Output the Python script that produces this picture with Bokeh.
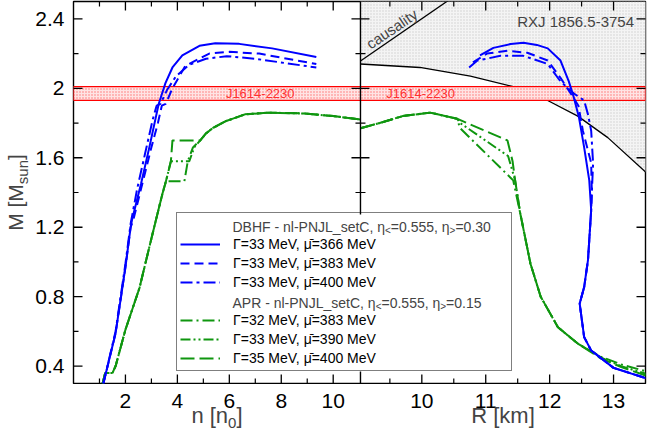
import math
from bokeh.plotting import figure
from bokeh.layouts import column, row
from bokeh.models import Range1d, Span, Label, Legend, LegendItem, BoxAnnotation
from bokeh.core.properties import value
from bokeh.embed import file_html
from bokeh.resources import INLINE

# ---------------- data ----------------
N_MAX = 11.05                # right end of the n panel
R_MIN, R_MAX = 9.04, 13.5    # R panel range
Y_MIN, Y_MAX = 0.3, 2.5

N_TICKS = [2, 4, 6, 8, 10]
N_TICK_LABELS = ["2", "4", "6", "8", "10"]
N_MINOR = [1, 3, 5, 7, 9]
R_TICKS = [10, 11, 12, 13]
R_TICK_LABELS = ["10", "11", "12", "13"]
R_MINOR = [9.5, 10.5, 11.5, 12.5]
M_TICKS = [0.4, 0.8, 1.2, 1.6, 2.0, 2.4]
M_TICK_LABELS = ["0.4", "0.8", "1.2", "1.6", "2", "2.4"]
M_MINOR = [0.6, 1.0, 1.4, 1.8, 2.2]

BAND_LO, BAND_HI = 1.93, 2.01   # J1614-2230

# left panel: M vs n
B366_N = [1.15, 1.62, 2.0, 2.2, 2.25, 2.6, 2.92, 3.28, 3.54, 3.81, 4.19, 4.85, 5.46, 6.38, 7.65, 9.35]
B366_M = [0.30, 0.59, 0.97, 1.20, 1.24, 1.45, 1.66, 1.91, 2.03, 2.12, 2.19, 2.245, 2.26, 2.256, 2.23, 2.18]
B383_N = [1.15, 1.62, 2.0, 2.2, 2.3, 2.65, 3.0, 3.25, 3.4, 3.55, 3.81, 4.31, 5.23, 6.0, 7.15, 9.35]
B383_M = [0.30, 0.59, 0.97, 1.20, 1.24, 1.45, 1.66, 1.80, 1.90, 1.91, 2.0, 2.13, 2.20, 2.21, 2.20, 2.14]
B400_N = [1.15, 1.62, 2.0, 2.2, 2.45, 2.75, 3.05, 3.2, 3.35, 3.6, 3.95, 4.45, 5.1, 5.9, 7.0, 9.35]
B400_M = [0.30, 0.60, 0.99, 1.22, 1.42, 1.62, 1.82, 1.90, 1.91, 1.99, 2.07, 2.135, 2.17, 2.185, 2.17, 2.12]

G32_N = [1.12, 1.22, 1.5, 1.62, 2.0, 2.54, 3.04, 3.42, 3.56, 4.27, 4.40, 4.6, 4.88, 5.1, 5.35, 5.85, 6.6, 7.54, 8.9, 10.0, 11.05]
G32_M = [0.30, 0.36, 0.36, 0.40, 0.61, 0.85, 1.16, 1.39, 1.465, 1.465, 1.58, 1.66, 1.70, 1.74, 1.77, 1.81, 1.85, 1.86, 1.855, 1.84, 1.82]
G33_N = [1.12, 1.22, 1.5, 1.62, 2.0, 2.54, 3.04, 3.42, 3.56, 3.75, 4.46, 4.65, 4.88, 5.1, 5.35, 5.85, 6.6, 7.54, 8.9, 10.0, 11.05]
G33_M = [0.30, 0.36, 0.36, 0.40, 0.61, 0.85, 1.16, 1.39, 1.465, 1.58, 1.58, 1.66, 1.70, 1.74, 1.77, 1.81, 1.85, 1.86, 1.855, 1.84, 1.82]
G35_N = [1.12, 1.22, 1.5, 1.62, 2.0, 2.54, 3.04, 3.42, 3.56, 3.75, 3.81, 4.88, 5.1, 5.35, 5.85, 6.6, 7.54, 8.9, 10.0, 11.05]
G35_M = [0.30, 0.36, 0.36, 0.40, 0.61, 0.85, 1.16, 1.39, 1.465, 1.58, 1.70, 1.70, 1.74, 1.77, 1.81, 1.85, 1.86, 1.855, 1.84, 1.82]

# right panel: M vs R
B366_R = [10.91, 11.12, 11.39, 11.59, 11.8, 11.97, 12.17, 12.30, 12.38, 12.46, 12.54, 12.62, 12.65, 12.60, 12.54, 12.47, 12.54, 12.65, 13.0, 13.51]
B366_MR = [2.19, 2.233, 2.255, 2.262, 2.25, 2.23, 2.16, 2.04, 1.946, 1.83, 1.66, 1.47, 1.30, 1.01, 0.855, 0.76, 0.567, 0.49, 0.39, 0.33]
B383_R = [10.80, 11.02, 11.34, 11.65, 11.97, 12.17, 12.33, 12.45, 12.52, 12.65, 12.66, 12.65, 12.60, 12.54, 12.47, 12.54, 12.65, 13.0, 13.51]
B383_MR = [2.15, 2.20, 2.216, 2.205, 2.16, 2.06, 1.97, 1.90, 1.756, 1.57, 1.40, 1.30, 1.01, 0.855, 0.76, 0.567, 0.49, 0.39, 0.33]
B400_R = [10.74, 10.87, 11.23, 11.59, 11.97, 12.17, 12.38, 12.54, 12.60, 12.65, 12.68, 12.66, 12.65, 12.60, 12.54, 12.47, 12.54, 12.65, 13.0, 13.51]
B400_MR = [2.12, 2.16, 2.187, 2.187, 2.14, 2.04, 1.97, 1.93, 1.85, 1.756, 1.567, 1.40, 1.30, 1.01, 0.855, 0.76, 0.567, 0.49, 0.39, 0.33]

G32_R = [9.04, 9.34, 9.70, 10.13, 10.55, 10.6, 11.43, 11.54, 11.70, 11.86, 12.13, 12.44, 12.8, 13.12, 13.51]
G32_MR = [1.77, 1.80, 1.84, 1.86, 1.825, 1.77, 1.47, 1.28, 0.99, 0.80, 0.624, 0.53, 0.455, 0.41, 0.37]
G33_R = [9.04, 9.34, 9.70, 10.13, 10.55, 10.6, 11.35, 11.46, 11.54, 11.70, 11.86, 12.13, 12.44, 12.8, 13.12, 13.51]
G33_MR = [1.77, 1.80, 1.84, 1.86, 1.825, 1.80, 1.61, 1.47, 1.28, 0.99, 0.80, 0.624, 0.53, 0.45, 0.40, 0.355]
G35_R = [9.04, 9.34, 9.70, 10.13, 10.55, 11.34, 11.42, 11.46, 11.54, 11.70, 11.86, 12.13, 12.44, 12.8, 13.12, 13.51]
G35_MR = [1.77, 1.80, 1.84, 1.86, 1.825, 1.70, 1.58, 1.47, 1.28, 0.99, 0.80, 0.624, 0.53, 0.445, 0.395, 0.345]

RXJ_R = [9.04, 9.97, 10.76, 11.43, 11.97, 12.44, 12.91, 13.51]
RXJ_M = [2.14, 2.12, 2.07, 2.01, 1.93, 1.84, 1.716, 1.515]
CAUS_R = [9.04, 10.45]
CAUS_M = [2.157, 2.515]

LEG_BLUE = ["\u0393=33 MeV, \u03bc\u0304=366 MeV", "\u0393=33 MeV, \u03bc\u0304=383 MeV", "\u0393=33 MeV, \u03bc\u0304=400 MeV"]
LEG_GREEN = ["\u0393=32 MeV, \u03bc\u0304=383 MeV", "\u0393=33 MeV, \u03bc\u0304=390 MeV", "\u0393=35 MeV, \u03bc\u0304=400 MeV"]
HEAD_DBHF = [("DBHF - nl-PNJL_setC, \u03b7", False), ("<", True), ("=0.555, \u03b7", False), (">", True), ("=0.30", False)]
HEAD_APR = [("APR - nl-PNJL_setC, \u03b7", False), ("<", True), ("=0.555, \u03b7", False), (">", True), ("=0.15", False)]
N_TITLE = [("n [n", False), ("0", True), ("]", False)]
R_TITLE = "R [km]"
M_TITLE = [("M [M", False), ("sun", True), ("]", False)]

# ---------------- layout / style ----------------
FONT = "Liberation Sans"
BLUE = "#0000ff"
GREEN = "#0f960f"
SPLIT = 0.5017                      # share of the frame taken by the n panel
X0, X1 = 0.0, N_MAX / SPLIT
RX0 = R_MIN - (R_MAX - R_MIN) * SPLIT / (1 - SPLIT)
RX1 = R_MAX

LEFT_W = 72                         # strip holding y tick labels and y title
FRAME_W, FRAME_H = 572, 382
MAIN_W = 1 + FRAME_W + 3
MAIN_H = 1 + FRAME_H + 1
BOT_H = 432 - MAIN_H

x_range = Range1d(X0, X1)
r_range = Range1d(RX0, RX1)
y_range = Range1d(Y_MIN, Y_MAX)

p = figure(width=MAIN_W, height=MAIN_H, x_range=x_range, y_range=y_range,
           x_axis_type=None, y_axis_type=None, output_backend="svg", toolbar_location=None,
           min_border_left=1, min_border_right=3, min_border_top=1, min_border_bottom=1)
p.extra_x_ranges = {"R": r_range}
p.outline_line_color = "black"
p.outline_line_width = 1.4
p.background_fill_color = "white"
p.border_fill_color = "white"

# shaded RXJ region and limits (right panel)
p.varea(x=RXJ_R, y1=RXJ_M, y2=[Y_MAX] * len(RXJ_R), x_range_name="R",
        fill_color="#f4f4f4", hatch_pattern="dot", hatch_color="#cfcfcf", hatch_scale=3, hatch_weight=1)
p.line(RXJ_R, RXJ_M, x_range_name="R", line_color="black", line_width=1.3)
p.line(CAUS_R, CAUS_M, x_range_name="R", line_color="black", line_width=1.3)

# J1614-2230 band
p.quad(left=X0, right=X1, bottom=BAND_LO, top=BAND_HI, fill_color="#ffe4e4",
       hatch_pattern="dot", hatch_color="#ff7070", hatch_scale=3, hatch_weight=1,
       line_color="#ff0000", line_width=1.3)

LW = 2
g32 = p.line(G32_N, G32_M, line_color=GREEN, line_width=LW, line_dash="12 4 2 4")
g33 = p.line(G33_N, G33_M, line_color=GREEN, line_width=LW, line_dash="10 3 2 3 2 3")
g35 = p.line(G35_N, G35_M, line_color=GREEN, line_width=LW, line_dash="14 5")
p.line(G32_R, G32_MR, x_range_name="R", line_color=GREEN, line_width=LW, line_dash="12 4 2 4")
p.line(G33_R, G33_MR, x_range_name="R", line_color=GREEN, line_width=LW, line_dash="10 3 2 3 2 3")
p.line(G35_R, G35_MR, x_range_name="R", line_color=GREEN, line_width=LW, line_dash="14 5")
b366 = p.line(B366_N, B366_M, line_color=BLUE, line_width=LW)
b383 = p.line(B383_N, B383_M, line_color=BLUE, line_width=LW, line_dash="9 5")
b400 = p.line(B400_N, B400_M, line_color=BLUE, line_width=LW, line_dash="12 4 3 4")
p.line(B366_R, B366_MR, x_range_name="R", line_color=BLUE, line_width=LW)
p.line(B383_R, B383_MR, x_range_name="R", line_color=BLUE, line_width=LW, line_dash="9 5")
p.line(B400_R, B400_MR, x_range_name="R", line_color=BLUE, line_width=LW, line_dash="12 4 3 4")

# inward ticks: dash markers centred on the frame edges (outer half is clipped away)
MAJ, MIN_ = 18, 10
TK = dict(marker="dash", line_color="black")
VERT = math.pi / 2
for yedge in (Y_MIN, Y_MAX):
    p.scatter(x=N_TICKS, y=[yedge] * len(N_TICKS), angle=VERT, size=MAJ, line_width=1.3, **TK)
    p.scatter(x=N_MINOR, y=[yedge] * len(N_MINOR), angle=VERT, size=MIN_, line_width=1.2, **TK)
    p.scatter(x=R_TICKS, y=[yedge] * len(R_TICKS), x_range_name="R", angle=VERT, size=MAJ, line_width=1.3, **TK)
    p.scatter(x=R_MINOR, y=[yedge] * len(R_MINOR), x_range_name="R", angle=VERT, size=MIN_, line_width=1.2, **TK)
for xedge, rng in ((X0, "default"), (N_MAX, "default"), (R_MAX, "R")):
    p.scatter(x=[xedge] * len(M_TICKS), y=M_TICKS, x_range_name=rng, size=MAJ, line_width=1.3, **TK)
    p.scatter(x=[xedge] * len(M_MINOR), y=M_MINOR, x_range_name=rng, size=MIN_, line_width=1.2, **TK)

# divider between the panels
p.add_layout(Span(location=N_MAX, dimension="height", line_color="black", line_width=1.4))

# texts in the panels
p.add_layout(Label(x=7.19, y=(BAND_LO + BAND_HI) / 2, text="J1614-2230", text_color="#ff3030",
                   text_font=FONT, text_font_size="13px", text_align="center", text_baseline="middle"))
p.add_layout(Label(x=9.98, y=(BAND_LO + BAND_HI) / 2, x_range_name="R", text="J1614-2230",
                   text_color="#ff3030", text_font=FONT, text_font_size="13px",
                   text_align="center", text_baseline="middle"))
p.add_layout(Label(x=9.53, y=2.343, x_range_name="R", text="causality", angle=math.radians(34),
                   text_font=FONT, text_font_size="15px", text_align="center", text_baseline="middle"))
p.add_layout(Label(x=13.32, y=2.383, x_range_name="R", text="RXJ 1856.5-3754",
                   text_font=FONT, text_font_size="15px", text_align="right", text_baseline="middle"))

# ---------------- legend ----------------
LEG_X, LEG_Y = 103, 12
PAD, GW, GH, SP, STAND, LABW = 3, 40, 18, 1, 13, 275
LEG_FS = 14
leg_w = 2 * PAD + GW + STAND + LABW
leg_h = 2 * PAD + 8 * GH + 7 * SP
p.add_layout(BoxAnnotation(left=LEG_X, right=LEG_X + leg_w, bottom=LEG_Y, top=LEG_Y + leg_h,
                           left_units="screen", right_units="screen", bottom_units="screen",
                           top_units="screen", fill_color="white", fill_alpha=1.0, line_alpha=0))

blank = p.line(x=[], y=[], line_alpha=0)
items = [LegendItem(label=" ", renderers=[blank]),
         LegendItem(label=LEG_BLUE[0], renderers=[b366]),
         LegendItem(label=LEG_BLUE[1], renderers=[b383]),
         LegendItem(label=LEG_BLUE[2], renderers=[b400]),
         LegendItem(label="  ", renderers=[blank]),
         LegendItem(label=LEG_GREEN[0], renderers=[g32]),
         LegendItem(label=LEG_GREEN[1], renderers=[g33]),
         LegendItem(label=LEG_GREEN[2], renderers=[g35])]
legend = Legend(items=items, location=(LEG_X, LEG_Y), orientation="vertical",
                glyph_width=GW, glyph_height=GH, label_height=GH, label_width=LABW,
                spacing=SP, padding=PAD, margin=0, label_standoff=STAND,
                border_line_color="black", border_line_width=1.2,
                background_fill_alpha=0.0,
                label_text_font=FONT, label_text_font_size="%dpx" % LEG_FS, label_text_color="black")
p.add_layout(legend)

WID = {' ': 278, '-': 333, '_': 556, ',': 278, '.': 278, '=': 584, '<': 584, '>': 584,
       '[': 278, ']': 278, 'A': 667, 'B': 667, 'C': 722, 'D': 722, 'F': 611, 'H': 722,
       'J': 500, 'L': 556, 'M': 833, 'N': 722, 'P': 667, 'R': 722, 'a': 556, 'c': 500,
       'e': 556, 'i': 222, 'k': 500, 'l': 222, 'n': 556, 's': 500, 't': 278, 'u': 556,
       'y': 500, '\u03b7': 556}


def tw(s, size):
    return sum(WID.get(ch, 556) for ch in s) * size / 1000.0


def text_run(fig, pieces, x, y, size, sub_size, sub_drop, angle=0.0):
    """Run of text pieces with subscripts (middle baseline), in screen units of fig's frame."""
    pos = 0.0
    for txt, sub in pieces:
        fs = sub_size if sub else size
        drop = sub_drop if sub else 0.0
        if angle == 0.0:
            lx, ly = x + pos, y - drop
        else:
            lx, ly = x + drop, y + pos
        fig.add_layout(Label(x=lx, y=ly, x_units="screen", y_units="screen", text=txt,
                             angle=angle, text_font=FONT, text_font_size="%gpx" % fs,
                             text_align="left", text_baseline="middle"))
        pos += tw(txt, fs)


text_x = LEG_X + PAD + GW + STAND
for r, pieces in ((0, HEAD_DBHF), (4, HEAD_APR)):
    cy = LEG_Y + leg_h - (PAD + r * (GH + SP) + GH / 2.0)
    text_run(p, pieces, text_x, cy, LEG_FS, 10, 4)

# ---------------- left strip: y tick labels and y title ----------------
pl = figure(width=LEFT_W, height=MAIN_H, x_range=Range1d(0, LEFT_W), y_range=y_range,
            x_axis_type=None, y_axis_type=None, output_backend="svg", toolbar_location=None,
            min_border_left=0, min_border_right=0, min_border_top=1, min_border_bottom=1)
pl.outline_line_color = None
pl.text(x=[LEFT_W - 8] * len(M_TICKS), y=M_TICKS, text=M_TICK_LABELS, text_align="right",
        text_baseline="middle", text_font=value(FONT), text_font_size=value("21px"), text_color="black")
m_len = sum(tw(t, 15 if s else 21) for t, s in M_TITLE)
text_run(pl, M_TITLE, 15, FRAME_H / 2.0 - m_len / 2.0, 21, 15, 7.2, angle=VERT)

# ---------------- bottom strip: x tick labels and x titles ----------------
pb = figure(width=LEFT_W + MAIN_W, height=BOT_H, x_range=x_range, y_range=Range1d(0, BOT_H),
            x_axis_type=None, y_axis_type=None, output_backend="svg", toolbar_location=None,
            min_border_left=LEFT_W + 1, min_border_right=3, min_border_top=0, min_border_bottom=0)
pb.extra_x_ranges = {"R": r_range}
pb.outline_line_color = None
TL_Y = BOT_H - 16
pb.text(x=N_TICKS, y=[TL_Y] * len(N_TICKS), text=N_TICK_LABELS, text_align="center",
        text_baseline="middle", text_font=value(FONT), text_font_size=value("21px"), text_color="black")
pb.text(x=R_TICKS, y=[TL_Y] * len(R_TICKS), text=R_TICK_LABELS, x_range_name="R", text_align="center",
        text_baseline="middle", text_font=value(FONT), text_font_size=value("21px"), text_color="black")
TITLE_Y = 17
n_len = sum(tw(t, 15 if s else 22) for t, s in N_TITLE)
text_run(pb, N_TITLE, FRAME_W * SPLIT / 2.0 - n_len / 2.0, TITLE_Y, 22, 15, 7.4)
pb.add_layout(Label(x=FRAME_W * (1 + SPLIT) / 2.0, y=TITLE_Y, x_units="screen", y_units="screen",
                    text=R_TITLE, text_font=FONT, text_font_size="22px", text_align="center",
                    text_baseline="middle"))

layout = column(row(pl, p, spacing=0), pb, spacing=0)
open("out.html", "w").write(file_html(layout, INLINE))
